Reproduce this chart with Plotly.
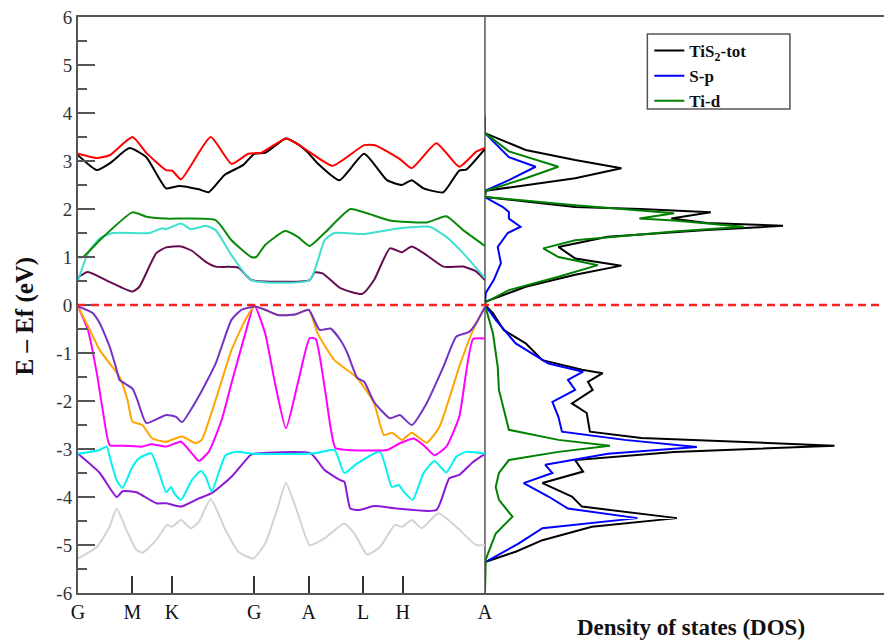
import plotly.graph_objects as go

# ---- high-symmetry path (k-path distance, arbitrary units) ----
kpath_pos = [0, 55, 95, 178, 233, 288, 328, 411]
kpath_lbl = ["G", "M", "K", "G", "A", "L", "H", "A"]

# ---- band energies (E - Ef, eV) sampled along the path ----
red_k = [0, 19, 32, 55, 69, 89, 95, 104, 134, 155, 172, 185, 210, 222, 235, 257, 289, 300, 325, 337, 362, 385, 402, 411]
red_e = [3.15, 3.06, 3.12, 3.5, 3.17, 2.81, 2.8, 2.62, 3.5, 2.94, 3.15, 3.17, 3.47, 3.35, 3.17, 2.9, 3.33, 3.33, 3.04, 2.85, 3.37, 2.88, 3.19, 3.27]

black_k = [0, 19, 32, 52, 69, 89, 102, 122, 132, 148, 167, 178, 189, 210, 222, 232, 242, 264, 289, 312, 327, 337, 349, 369, 385, 392, 411]
black_e = [3.12, 2.81, 2.95, 3.27, 3.08, 2.43, 2.48, 2.41, 2.35, 2.71, 2.92, 3.15, 3.17, 3.47, 3.35, 3.18, 2.95, 2.6, 3.15, 2.6, 2.5, 2.6, 2.43, 2.35, 2.8, 2.82, 3.25]

green_k = [0, 5, 22, 55, 69, 89, 139, 155, 175, 180, 189, 209, 222, 234, 249, 275, 292, 315, 352, 372, 389, 411]
green_e = [1.0, 1.0, 1.35, 1.93, 1.84, 1.8, 1.77, 1.35, 1.0, 1.0, 1.25, 1.54, 1.42, 1.23, 1.5, 2.0, 1.91, 1.76, 1.72, 1.85, 1.56, 1.23]

turq_k = [0, 10, 22, 35, 72, 85, 89, 104, 114, 129, 139, 155, 175, 234, 249, 259, 289, 325, 355, 372, 389, 411]
turq_e = [0.5, 1.08, 1.39, 1.5, 1.5, 1.6, 1.58, 1.7, 1.58, 1.65, 1.56, 1.04, 0.52, 0.52, 1.35, 1.5, 1.48, 1.6, 1.63, 1.42, 1.08, 0.56]

maroon_k = [0, 10, 32, 55, 62, 79, 89, 104, 115, 129, 139, 162, 175, 234, 239, 247, 265, 287, 299, 315, 327, 337, 352, 369, 389, 402, 411]
maroon_e = [0.58, 0.69, 0.48, 0.28, 0.38, 1.08, 1.2, 1.22, 1.13, 0.9, 0.8, 0.78, 0.52, 0.52, 0.68, 0.66, 0.35, 0.23, 0.52, 1.18, 1.1, 1.22, 1.04, 0.8, 0.8, 0.7, 0.52]

violet_k = [0, 15, 22, 32, 39, 42, 55, 60, 69, 89, 99, 105, 122, 139, 155, 165, 179, 189, 202, 219, 233, 244, 255, 265, 272, 282, 289, 299, 315, 325, 337, 352, 369, 382, 395, 402, 411]
violet_e = [-0.03, -0.17, -0.38, -0.87, -1.35, -1.56, -1.74, -1.98, -2.46, -2.29, -2.33, -2.44, -1.9, -1.22, -0.31, -0.1, -0.03, -0.1, -0.21, -0.2, -0.1, -0.52, -0.49, -0.73, -1.0, -1.52, -1.6, -2.02, -2.36, -2.29, -2.5, -2.05, -1.29, -0.66, -0.56, -0.38, -0.04]

orange_k = [0, 12, 22, 42, 50, 55, 65, 75, 89, 105, 119, 125, 139, 155, 169, 178, 189, 202, 219, 233, 242, 259, 282, 299, 309, 317, 327, 337, 352, 365, 385, 399, 411]
orange_e = [-0.03, -0.52, -0.94, -1.5, -1.98, -2.43, -2.5, -2.78, -2.85, -2.74, -2.88, -2.81, -1.98, -0.94, -0.31, -0.03, -0.1, -0.21, -0.2, -0.1, -0.59, -1.15, -1.52, -2.05, -2.71, -2.66, -2.81, -2.66, -2.87, -2.54, -1.29, -0.52, -0.04]

magenta_k = [0, 10, 19, 25, 32, 42, 65, 74, 89, 104, 115, 122, 132, 145, 155, 169, 178, 189, 199, 210, 222, 234, 240, 249, 255, 260, 272, 312, 325, 339, 349, 360, 372, 385, 399, 411]
magenta_e = [-0.03, -0.52, -1.42, -2.19, -2.92, -2.93, -2.95, -2.9, -2.95, -2.85, -3.09, -3.25, -3.06, -2.4, -1.63, -0.59, 0.0, -0.59, -1.63, -2.57, -1.63, -0.69, -0.71, -1.7, -2.54, -2.98, -3.02, -3.02, -2.88, -2.78, -2.92, -3.13, -2.95, -2.33, -0.71, -0.7]

cyan_k = [0, 22, 29, 32, 39, 45, 55, 62, 74, 82, 89, 94, 97, 104, 115, 124, 129, 135, 142, 149, 159, 178, 239, 259, 269, 282, 305, 317, 324, 329, 338, 349, 360, 372, 382, 392, 411]
cyan_e = [-3.1, -3.02, -2.95, -3.16, -3.65, -3.81, -3.37, -3.19, -3.09, -3.5, -3.9, -3.79, -3.92, -4.06, -3.65, -3.46, -3.58, -3.89, -3.5, -3.13, -3.06, -3.1, -3.09, -3.02, -3.5, -3.3, -3.06, -3.79, -3.75, -3.89, -4.06, -3.5, -3.25, -3.49, -3.16, -3.06, -3.1]

purple_k = [0, 22, 39, 45, 59, 79, 89, 104, 122, 135, 155, 174, 178, 235, 249, 265, 269, 275, 284, 299, 322, 362, 375, 385, 399, 411]
purple_e = [-3.1, -3.5, -4.0, -3.88, -3.9, -4.13, -4.13, -4.2, -4.03, -3.92, -3.58, -3.13, -3.1, -3.09, -3.44, -3.65, -3.68, -4.24, -4.27, -4.19, -4.24, -4.27, -3.61, -3.54, -3.27, -3.1]

gray_k = [0, 19, 32, 39, 49, 59, 65, 79, 90, 95, 104, 114, 122, 134, 149, 162, 177, 189, 202, 210, 222, 234, 249, 269, 279, 292, 305, 320, 327, 337, 347, 364, 382, 402, 411]
gray_e = [-5.28, -5.04, -4.62, -4.24, -4.69, -5.1, -5.16, -4.9, -4.58, -4.62, -4.48, -4.65, -4.52, -4.04, -4.69, -5.14, -5.28, -4.97, -4.2, -3.71, -4.34, -5.0, -4.86, -4.55, -4.76, -5.2, -5.04, -4.58, -4.62, -4.48, -4.65, -4.34, -4.62, -5.0, -5.0]

# ---- density of states (arbitrary units) ----
tot_E = [3.58, 3.23, 3.02, 2.85, 2.64, 2.5, 2.38, 2.25, 2.04, 2.0, 1.93, 1.8, 1.71, 1.65, 1.56, 1.42, 1.21, 0.97, 0.82, 0.63, 0.38, 0.07, 0.0, -0.17, -0.52, -0.8, -1.15, -1.35, -1.42, -1.6, -1.77, -2.05, -2.25, -2.64, -2.77, -2.93, -3.06, -3.23, -3.47, -3.71, -3.99, -4.2, -4.44, -4.62, -4.9, -5.14, -5.35]
tot_dos = [0, 1.02, 2.26, 3.42, 2.26, 1.02, 0.02, 0, 2.26, 3.9, 5.66, 4.67, 5.56, 7.47, 5.56, 3.08, 1.84, 2.26, 3.42, 2.26, 1.02, 0.02, 0, 0.2, 0.47, 1.02, 1.44, 2.43, 2.95, 2.58, 2.7, 2.18, 2.55, 2.63, 3.92, 8.76, 4.74, 2.26, 2.46, 1.44, 2.18, 2.43, 4.81, 2.68, 1.44, 0.77, 0.02]

sp_E = [3.58, 3.08, 2.88, 2.6, 2.38, 2.25, 2.04, 1.94, 1.8, 1.63, 1.5, 1.21, 0.87, 0.52, 0.25, 0.0, -0.31, -0.8, -1.22, -1.39, -1.56, -1.77, -2.02, -2.33, -2.64, -2.81, -2.96, -3.1, -3.33, -3.5, -3.71, -3.99, -4.24, -4.44, -4.65, -4.97, -5.35]
sp_dos = [0, 0.6, 1.27, 0.6, 0.0, 0, 0.45, 0.6, 0.6, 0.89, 0.57, 0.32, 0.4, 0.22, 0.02, 0, 0.27, 0.77, 1.59, 2.46, 2.08, 2.26, 1.69, 1.84, 1.93, 3.5, 5.31, 3.08, 1.51, 1.69, 0.97, 1.59, 2.08, 3.82, 1.44, 0.84, 0.02]

tid_E = [3.95, 3.58, 3.2, 2.88, 2.64, 2.38, 2.25, 2.08, 1.91, 1.8, 1.76, 1.63, 1.53, 1.35, 1.18, 1.0, 0.83, 0.59, 0.31, 0.05, 0.0, -0.59, -1.29, -1.77, -2.6, -2.81, -2.93, -3.06, -3.23, -3.5, -3.79, -4.06, -4.41, -4.76, -5.3, -6.0]
tid_dos = [0, 0, 0.6, 1.84, 1.02, 0.02, 0, 2.26, 4.74, 3.87, 4.74, 6.48, 4.74, 2.26, 1.46, 1.84, 2.83, 1.84, 0.6, 0.0, 0, 0.2, 0.32, 0.35, 0.6, 1.84, 3.13, 1.84, 0.6, 0.35, 0.27, 0.35, 0.69, 0.27, 0.02, 0]

FONT = "Liberation Serif"
AXIS_COLOR = "#555555"
W, H = 892, 641
ML, MR, MT, MB = 78, 0, 17, 48
PW, PH = W - ML - MR, H - MT - MB
band_frac = 411 / PW


def px_x(p):
    """page pixel column -> paper x"""
    return (p - ML) / PW


def px_y(p):
    """page pixel row -> paper y"""
    return (H - MB - p) / PH


fig = go.Figure()

# bands, lowest layer first so overlapping degenerate branches stack correctly
bands = [
    (gray_k, gray_e, "#d3d3d3"),
    (purple_k, purple_e, "#8b18d6"),
    (cyan_k, cyan_e, "#00f2f2"),
    (magenta_k, magenta_e, "#ff00ff"),
    (orange_k, orange_e, "#ffa500"),
    (violet_k, violet_e, "#7432c4"),
    (maroon_k, maroon_e, "#650d4f"),
    (turq_k, turq_e, "#40e0d0"),
    (green_k, green_e, "#0a8a0a"),
    (black_k, black_e, "#000000"),
    (red_k, red_e, "#ff0000"),
]
for kk, ee, col in bands:
    fig.add_trace(go.Scatter(
        x=kk, y=ee, mode="lines", showlegend=False, hoverinfo="skip",
        line=dict(color=col, width=2, shape="spline", smoothing=0.5),
        xaxis="x", yaxis="y"))

# projected DOS
dos = [
    (tot_E, tot_dos, "#000000", "TiS<sub>2</sub>-tot"),
    (sp_E, sp_dos, "#0000ff", "S-p"),
    (tid_E, tid_dos, "#008000", "Ti-d"),
]
for ee, dd, col, name in dos:
    fig.add_trace(go.Scatter(
        x=dd, y=ee, mode="lines", name=name,
        line=dict(color=col, width=2),
        xaxis="x2", yaxis="y"))

yticks = list(range(-6, 7))
fig.update_layout(
    width=W, height=H,
    margin=dict(l=ML, r=MR, t=MT, b=MB),
    paper_bgcolor="white", plot_bgcolor="white",
    font=dict(family=FONT, size=19, color="#222222"),
    xaxis=dict(
        domain=[0, band_frac], range=[0, 411],
        tickmode="array", tickvals=kpath_pos, ticktext=kpath_lbl,
        ticks="inside", ticklen=17, tickwidth=1.5, tickcolor="#333333",
        showgrid=False, zeroline=False,
        showline=True, linecolor=AXIS_COLOR, linewidth=2, mirror=True,
        tickfont=dict(family=FONT, size=20, color="#111111"),
    ),
    xaxis2=dict(
        domain=[band_frac, 1], range=[0, 10], anchor="y",
        showticklabels=False, ticks="", showgrid=False, zeroline=False,
        showline=True, linecolor=AXIS_COLOR, linewidth=2, mirror=True,
    ),
    yaxis=dict(
        range=[-6, 6], tickmode="array", tickvals=yticks,
        ticktext=[str(v) for v in yticks],
        ticks="inside", ticklen=17, tickwidth=1.5, tickcolor=AXIS_COLOR,
        minor=dict(tickvals=[v + 0.5 for v in yticks[:-1]], ticks="inside",
                   ticklen=9, tickwidth=1.5, tickcolor=AXIS_COLOR),
        showgrid=False, zeroline=False,
        showline=True, linecolor=AXIS_COLOR, linewidth=2,
        tickfont=dict(family=FONT, size=19, color="#333333"),
    ),
    legend=dict(
        x=px_x(655), y=px_y(33),
        xanchor="left", yanchor="top",
        bgcolor="rgba(0,0,0,0)", borderwidth=0,
        font=dict(family=FONT, size=17, color="#111111", weight="bold"),
        tracegroupgap=0, itemwidth=30,
    ),
    showlegend=True,
)

# legend frame
fig.add_shape(type="rect", xref="paper", yref="paper",
              x0=px_x(653), x1=px_x(797), y0=px_y(109), y1=px_y(34),
              line=dict(color="#555555", width=1.5), fillcolor="white", layer="below")

# Fermi level
fig.add_shape(type="line", xref="paper", yref="y", x0=0, x1=1, y0=0, y1=0,
              line=dict(color="#ff2020", width=2.5, dash="8px,5px"), layer="above")
# panel separator
fig.add_shape(type="line", xref="paper", yref="paper", x0=band_frac, x1=band_frac,
              y0=0, y1=1, line=dict(color=AXIS_COLOR, width=1.5), layer="below")

# axis titles
fig.add_annotation(text="<b>E \u2013 Ef (eV)</b>", textangle=-90,
                   xref="paper", yref="paper", x=px_x(24), y=px_y(316),
                   xanchor="center", yanchor="middle", showarrow=False,
                   font=dict(family=FONT, size=25, color="#111111"))
fig.add_annotation(text="<b>Density of states (DOS)</b>",
                   xref="paper", yref="paper", x=px_x(697), y=px_y(627),
                   xanchor="center", yanchor="middle", showarrow=False,
                   font=dict(family=FONT, size=23, color="#111111"))

fig.write_html("out.html")
